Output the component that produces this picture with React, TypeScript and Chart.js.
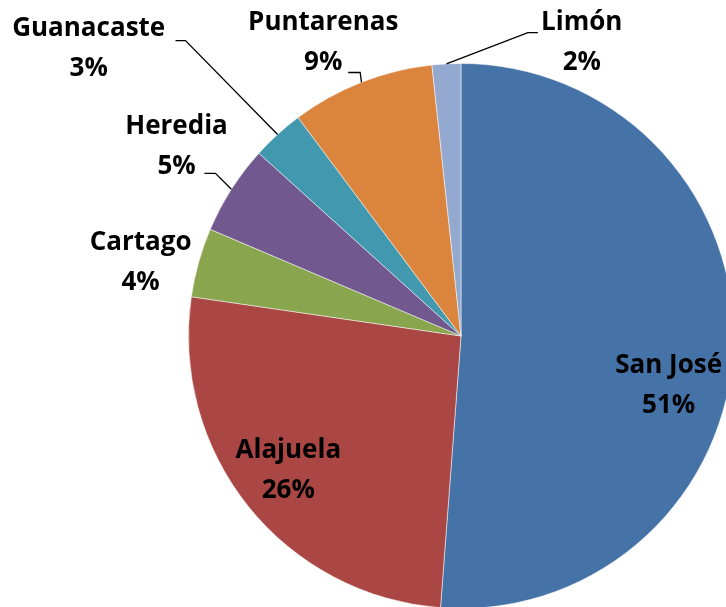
import React, { useEffect, useRef } from "react";
import { Chart, registerables } from "chart.js";

Chart.register(...registerables);

const provinces = ["San José", "Alajuela", "Cartago", "Heredia", "Guanacaste", "Puntarenas", "Limón"];
const shares = [51.2, 26.1, 4.1, 5.3, 3.1, 8.5, 1.7];
const colors = ["#4572A7", "#AA4643", "#89A54E", "#71588F", "#4198AF", "#DB843D", "#93A9CF"];

// label block centre, as offsets from pie centre in units of radius
const labelOffsets: [number, number][] = [
  [208 / 273, 50 / 273],
  [-173 / 273, 135 / 273],
  [-321 / 273, -74 / 273],
  [-285 / 273, -190 / 273],
  [-373 / 273, -288 / 273],
  [-138 / 273, -294 / 273],
  [121 / 273, -294 / 273],
];
// leader lines: [elbow, end] offsets from centre (radius units), null = none
const leaders: ([number, number][] | null)[] = [
  null,
  null,
  null,
  [[-246 / 273, -163 / 273], [-257 / 273, -163 / 273]],
  [[-276 / 273, -296 / 273], [-286 / 273, -296 / 273]],
  [[-101 / 273, -264 / 273], [-113 / 273, -264 / 273]],
  [[67 / 273, -304 / 273], [77 / 273, -304 / 273]],
];

const labelPlugin = {
  id: "pieLabels",
  afterDatasetsDraw(chart: any) {
    const ctx = chart.ctx;
    const meta = chart.getDatasetMeta(0);
    const data = chart.data.datasets[0].data as number[];
    const total = data.reduce((a, b) => a + b, 0);
    ctx.save();
    meta.data.forEach((arc: any, i: number) => {
      const { x, y, outerRadius, startAngle, endAngle } = arc.getProps(
        ["x", "y", "outerRadius", "startAngle", "endAngle"],
        true
      );
      const r = outerRadius;
      const lead = leaders[i];
      if (lead) {
        const mid = (startAngle + endAngle) / 2;
        ctx.beginPath();
        ctx.strokeStyle = "#000";
        ctx.lineWidth = 1.3;
        ctx.moveTo(x + Math.cos(mid) * r, y + Math.sin(mid) * r);
        ctx.lineTo(x + lead[0][0] * r, y + lead[0][1] * r);
        ctx.lineTo(x + lead[1][0] * r, y + lead[1][1] * r);
        ctx.stroke();
      }
      const lx = x + labelOffsets[i][0] * r;
      const ly = y + labelOffsets[i][1] * r;
      ctx.fillStyle = "#000";
      ctx.font = "bold 26px 'Open Sans'";
      ctx.textAlign = "center";
      ctx.textBaseline = "middle";
      ctx.fillText(provinces[i], lx, ly - 20);
      ctx.fillText(Math.round((data[i] / total) * 100) + "%", lx, ly + 20);
    });
    ctx.restore();
  },
};

export default function App() {
  const ref = useRef<HTMLCanvasElement>(null);
  useEffect(() => {
    document.body.style.margin = "0";
    const chart = new Chart(ref.current!, {
      type: "pie",
      data: {
        labels: provinces,
        datasets: [
          {
            data: shares,
            backgroundColor: colors,
            borderColor: "rgba(255,255,255,0.5)",
            borderWidth: 1,
          },
        ],
      },
      options: {
        responsive: false,
        animation: false,
        devicePixelRatio: 1,
        layout: { padding: { left: 188, top: 63, right: 66, bottom: 11 } },
        plugins: { legend: { display: false }, tooltip: { enabled: false } },
      },
      plugins: [labelPlugin],
    });
    return () => chart.destroy();
  }, []);
  return (
    <div style={{ position: "fixed", left: 0, top: 0, width: 726, height: 607, overflow: "hidden", background: "#fff" }}>
      <canvas ref={ref} width={800} height={620} style={{ width: 800, height: 620 }} />
    </div>
  );
}
